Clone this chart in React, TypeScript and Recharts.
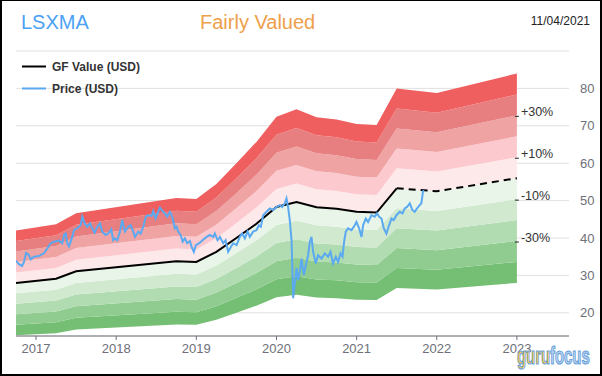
import React from 'react';
import {
  ComposedChart, Area, Line, Scatter, XAxis, YAxis, CartesianGrid,
} from 'recharts';

// GF Value knots (decimal year -> USD)
const gfDates = [2016.75, 2017.25, 2017.5, 2018.75, 2019.0, 2019.25, 2019.5, 2019.75, 2020.0, 2020.25, 2020.5, 2020.75, 2021.0, 2021.25, 2021.5, 2022.0, 2023.0];
const gfValues = [28.0, 29.1, 31.1, 33.8, 33.6, 36.3, 40.0, 43.8, 48.3, 49.6, 48.2, 47.8, 47.0, 46.8, 53.3, 52.5, 56.0];
const lastActual = 2021.5; // GF value is dashed (estimate) after this

// price
const priceDates = [
  2016.750, 2016.787, 2016.825, 2016.850, 2016.875, 2016.912, 2016.933, 2016.974, 2017.037, 2017.099,
  2017.140, 2017.183, 2017.224, 2017.286, 2017.327, 2017.349, 2017.370, 2017.390, 2017.411, 2017.452,
  2017.473, 2017.514, 2017.557, 2017.577, 2017.607, 2017.639, 2017.673, 2017.701, 2017.731, 2017.764,
  2017.797, 2017.826, 2017.868, 2017.910, 2017.938, 2017.963, 2017.984, 2018.013, 2018.047, 2018.075,
  2018.109, 2018.150, 2018.180, 2018.213, 2018.234, 2018.275, 2018.305, 2018.337, 2018.371, 2018.400,
  2018.442, 2018.462, 2018.492, 2018.524, 2018.546, 2018.579, 2018.608, 2018.637, 2018.670, 2018.699,
  2018.733, 2018.754, 2018.774, 2018.804, 2018.829, 2018.857, 2018.886, 2018.920, 2018.941, 2018.969,
  2018.994, 2019.036, 2019.078, 2019.128, 2019.169, 2019.210, 2019.231, 2019.265, 2019.294, 2019.335,
  2019.365, 2019.397, 2019.431, 2019.459, 2019.502, 2019.543, 2019.572, 2019.605, 2019.639, 2019.668,
  2019.709, 2019.751, 2019.780, 2019.805, 2019.834, 2019.876, 2019.917, 2019.958, 2020.001, 2020.042,
  2020.070, 2020.104, 2020.125, 2020.145, 2020.166, 2020.188, 2020.200, 2020.208, 2020.229, 2020.250,
  2020.270, 2020.291, 2020.312, 2020.341, 2020.375, 2020.395, 2020.416, 2020.437, 2020.457, 2020.491,
  2020.519, 2020.562, 2020.603, 2020.644, 2020.674, 2020.706, 2020.740, 2020.769, 2020.799, 2020.824,
  2020.844, 2020.865, 2020.893, 2020.936, 2020.977, 2020.998, 2021.031, 2021.061, 2021.081, 2021.114,
  2021.143, 2021.185, 2021.226, 2021.255, 2021.280, 2021.310, 2021.339, 2021.372, 2021.405, 2021.435,
  2021.463, 2021.497, 2021.538, 2021.572, 2021.600, 2021.629, 2021.663, 2021.695, 2021.725, 2021.754,
  2021.787, 2021.808, 2021.828, 2021.837,
];
const priceValues = [
  33.9, 33.0, 32.5, 33.6, 36.0, 35.4, 34.3, 35.0, 35.2, 35.9,
  37.2, 38.6, 39.0, 39.3, 38.6, 40.8, 41.2, 38.6, 37.8, 40.3,
  42.1, 42.6, 43.4, 45.7, 43.9, 43.0, 43.9, 42.6, 41.4, 43.0,
  43.9, 41.7, 40.8, 41.4, 42.3, 39.4, 39.9, 39.4, 41.7, 44.8,
  41.7, 43.0, 43.4, 41.7, 40.3, 41.7, 41.2, 43.0, 45.7, 46.1,
  45.9, 47.2, 45.2, 47.0, 48.1, 47.2, 46.6, 45.7, 47.0, 45.7,
  42.6, 43.0, 41.7, 40.8, 39.0, 39.9, 38.6, 39.2, 37.6, 36.3,
  38.1, 38.6, 39.4, 40.3, 40.8, 40.3, 41.2, 39.4, 40.3, 38.6,
  39.4, 36.3, 37.6, 38.6, 38.1, 40.3, 41.2, 39.9, 41.7, 40.3,
  41.7, 42.1, 43.4, 43.0, 46.1, 47.0, 47.9, 47.5, 48.3, 48.8,
  48.3, 49.3, 50.6, 48.3, 44.8, 39.4, 30.5, 23.9, 28.0, 32.0,
  28.7, 31.0, 34.5, 30.1, 33.6, 35.4, 39.0, 40.3, 36.3, 33.2,
  35.4, 34.5, 35.9, 35.0, 36.3, 33.2, 35.0, 33.6, 35.9, 35.0,
  39.0, 41.7, 42.6, 42.1, 43.4, 44.3, 42.6, 40.3, 43.4, 45.2,
  44.3, 46.1, 45.7, 46.6, 45.7, 45.2, 42.6, 41.2, 43.4, 45.2,
  44.8, 46.1, 47.0, 46.6, 47.9, 48.3, 49.3, 47.5, 47.0, 47.9,
  48.8, 49.3, 52.4, 52.8,
];

// band edges as multiples of GF value, bottom -> top
const bandEdges = [0.5, 0.6, 0.7, 0.8, 0.9, 1.0, 1.1, 1.2, 1.3, 1.4, 1.5];
const bandColors = ['#74bf74', '#90cb8f', '#b1dbb0', '#d0e9cf', '#e9f5e9', '#fde8ea', '#fcc9ce', '#efa3a3', '#e77f80', '#ef5f5f'];
const pctLabels = ['+30%', '+10%', '-10%', '-30%'];
const pctFactors = [1.3, 1.1, 0.9, 0.7];

const yearTicks = [2017, 2018, 2019, 2020, 2021, 2022, 2023];
const valueTicks = [20, 30, 40, 50, 60, 70, 80, 90];

const gfData = gfDates.map((t, i) => ({ t, gf: gfValues[i] }));
const gfSolid = gfData.filter((d) => d.t <= lastActual);
const gfDashed = gfData.filter((d) => d.t >= lastActual);
const priceData = priceDates.map((t, i) => ({ t, v: priceValues[i] }));
const lastGf = gfData[gfData.length - 1];
const pctData = pctLabels.map((label, i) => ({ t: lastGf.t, v: lastGf.gf * pctFactors[i], label }));

const FONT = '"Liberation Sans", Arial, sans-serif';

const PctMark = (props: any) => {
  const { cx, cy, payload } = props;
  return (
    <g>
      <line x1={cx - 2} x2={cx + 2} y1={cy + 1} y2={cy + 1} stroke="#222" strokeWidth={1} />
      <text x={cx + 4} y={cy + 1} fontSize={12.5} fill="#333" fontFamily={FONT}>{payload.label}</text>
    </g>
  );
};

export default function App() {
  return (
    <div style={{ position: 'absolute', left: 0, top: 0, width: 602, height: 376, background: '#fff', overflow: 'hidden' }}>
      <ComposedChart width={602} height={376} data={gfData} margin={{ top: 51, right: 0, bottom: 0, left: 16 }}>
        <CartesianGrid vertical={false} stroke="#e0e0e0" />
        <XAxis
          dataKey="t" type="number" domain={[2016.75, 2023.65]} ticks={yearTicks} allowDataOverflow
          height={40} tickSize={4} tickMargin={4}
          stroke="#6e7079" tick={{ fill: '#6e7079', fontSize: 13, fontFamily: FONT }}
          tickFormatter={(v) => String(Math.round(v))}
        />
        <YAxis
          orientation="right" type="number" domain={[13.8, 90]} ticks={valueTicks} allowDataOverflow
          width={33} axisLine={false} tickLine={false} tickSize={6} tickMargin={5}
          tick={{ fill: '#6e7079', fontSize: 13, fontFamily: FONT }}
          tickFormatter={(v) => (v === 90 ? '' : String(v))}
        />
        {bandColors.map((c, i) => (
          <Area
            key={`band-${i}`} type="linear" isAnimationActive={false}
            dataKey={(d: any) => [d.gf * bandEdges[i], d.gf * bandEdges[i + 1]]}
            fill={c} fillOpacity={1} stroke="none" activeDot={false}
          />
        ))}
        <Line data={gfSolid} dataKey="gf" type="linear" stroke="#000" strokeWidth={2} dot={false} isAnimationActive={false} />
        <Line data={gfDashed} dataKey="gf" type="linear" stroke="#000" strokeWidth={2} strokeDasharray="7 5" dot={false} isAnimationActive={false} />
        <Line data={priceData} dataKey="v" type="linear" stroke="#5aa9f1" strokeWidth={2} dot={false} isAnimationActive={false} />
        <Scatter data={pctData} dataKey="v" shape={PctMark} isAnimationActive={false} />
      </ComposedChart>

      <svg width={602} height={376} style={{ position: 'absolute', left: 0, top: 0, pointerEvents: 'none' }}>
        <text x={21} y={29} fontSize={20} fill="#4da2f4" fontFamily={FONT}>LSXMA</text>
        <text x={200} y={29} fontSize={20} fill="#eea04a" fontFamily={FONT}>Fairly Valued</text>
        <text x={590} y={25} fontSize={12} fill="#222" fontFamily={FONT} textAnchor="end">11/04/2021</text>

        <line x1={22} x2={46} y1={66.5} y2={66.5} stroke="#000" strokeWidth={2} />
        <text x={52} y={70.5} fontSize={12} fontWeight="bold" fill="#333" fontFamily={FONT}>GF Value (USD)</text>
        <line x1={22} x2={46} y1={88.5} y2={88.5} stroke="#5aa9f1" strokeWidth={2} />
        <text x={52} y={92.5} fontSize={12} fontWeight="bold" fill="#333" fontFamily={FONT}>Price (USD)</text>

        <g transform="translate(517,364) scale(0.62,1)">
          <text x={0} y={0} fontSize={24} fontWeight="bold" fontFamily={FONT} stroke="#6a9fd8" strokeWidth={1.2}>
            <tspan fill="#f7c948">guru</tspan>
            <tspan fill="#b6d5f2">focus</tspan>
          </text>
        </g>
      </svg>
      <div style={{ position: 'absolute', left: 0, top: 0, width: 602, height: 376, boxSizing: 'border-box', borderStyle: 'solid', borderColor: '#000', borderWidth: '1px 2px 2px 2px', pointerEvents: 'none' }} />
    </div>
  );
}
